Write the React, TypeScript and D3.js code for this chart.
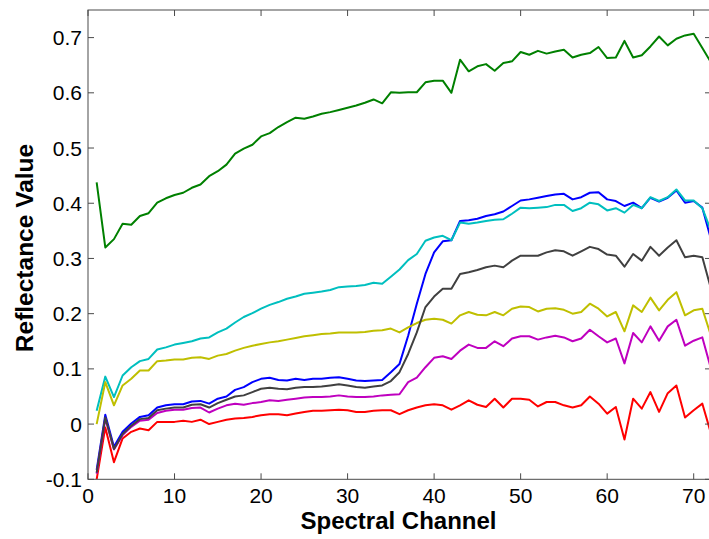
import * as d3 from "d3";
import React from "react";

// spectral channels 1..72
const channels = d3.range(1, 73);

const blueVals = [
  -0.083, 0.017, -0.041, -0.014, 0.001, 0.013, 0.016, 0.03, 0.034, 0.036,
  0.036, 0.041, 0.042, 0.037, 0.046, 0.05, 0.062, 0.067, 0.076, 0.082,
  0.084, 0.08, 0.079, 0.082, 0.08, 0.082, 0.082, 0.084, 0.085, 0.082,
  0.079, 0.078, 0.079, 0.08, 0.094, 0.109, 0.16, 0.218, 0.272, 0.311,
  0.331, 0.333, 0.368, 0.369, 0.372, 0.377, 0.38, 0.385, 0.395, 0.405,
  0.407, 0.41, 0.413, 0.416, 0.417, 0.407, 0.411, 0.419, 0.42, 0.407,
  0.404, 0.395, 0.401, 0.391, 0.41, 0.403, 0.41, 0.423, 0.401, 0.404,
  0.392, 0.335,
];

const greenVals = [
  0.438, 0.32, 0.335, 0.363, 0.361, 0.377, 0.382, 0.401, 0.409, 0.415,
  0.419, 0.428, 0.434, 0.449, 0.458, 0.47, 0.49, 0.499, 0.506, 0.521,
  0.527, 0.538, 0.547, 0.555, 0.553, 0.557, 0.562, 0.565, 0.569, 0.573,
  0.577, 0.582, 0.588, 0.581, 0.601, 0.6, 0.601, 0.601, 0.619, 0.622,
  0.622, 0.6, 0.66, 0.639, 0.648, 0.652, 0.64, 0.654, 0.657, 0.674,
  0.669, 0.676, 0.671, 0.675, 0.678, 0.664, 0.669, 0.672, 0.683, 0.663,
  0.664, 0.694, 0.664, 0.668, 0.684, 0.702, 0.686, 0.698, 0.704, 0.707,
  0.681, 0.655,
];

const redVals = [
  -0.1, -0.006, -0.069, -0.026, -0.014, -0.008, -0.011, 0.004, 0.004, 0.004,
  0.006, 0.004, 0.008, 0.0, 0.004, 0.008, 0.01, 0.011, 0.013, 0.016,
  0.018, 0.018, 0.016, 0.019, 0.022, 0.024, 0.024, 0.025, 0.026, 0.025,
  0.022, 0.022, 0.024, 0.025, 0.025, 0.018, 0.025, 0.03, 0.034, 0.036,
  0.034, 0.026, 0.034, 0.043, 0.035, 0.031, 0.046, 0.03, 0.046, 0.046,
  0.044, 0.032, 0.04, 0.04, 0.034, 0.03, 0.034, 0.05, 0.037, 0.019,
  0.031, -0.028, 0.046, 0.028, 0.058, 0.022, 0.056, 0.07, 0.012, 0.025,
  0.037, -0.017,
];

const cyanVals = [
  0.024, 0.086, 0.049, 0.088, 0.103, 0.114, 0.118, 0.135, 0.139, 0.144,
  0.147, 0.15, 0.155, 0.157, 0.166, 0.173, 0.184, 0.194, 0.201, 0.209,
  0.216, 0.221, 0.227, 0.231, 0.236, 0.238, 0.24, 0.243, 0.248, 0.249,
  0.25, 0.252, 0.256, 0.254, 0.267, 0.28, 0.297, 0.308, 0.332, 0.338,
  0.341, 0.333, 0.365, 0.363, 0.365, 0.368, 0.37, 0.371, 0.381, 0.392,
  0.391, 0.392, 0.393, 0.397, 0.397, 0.386, 0.391, 0.401, 0.398, 0.387,
  0.391, 0.383, 0.397, 0.391, 0.411, 0.404, 0.411, 0.425, 0.405, 0.405,
  0.391, 0.35,
];

const magentaVals = [
  -0.09, 0.01, -0.046, -0.02, -0.005, 0.006, 0.008, 0.02, 0.024, 0.026,
  0.026, 0.029, 0.03, 0.021, 0.028, 0.034, 0.037, 0.035, 0.038, 0.04,
  0.043, 0.042, 0.044, 0.046, 0.048, 0.049, 0.049, 0.05, 0.052, 0.05,
  0.049, 0.049, 0.05, 0.052, 0.053, 0.054, 0.076, 0.084, 0.103, 0.12,
  0.123, 0.118, 0.133, 0.144, 0.138, 0.138, 0.15, 0.141, 0.155, 0.159,
  0.159, 0.153, 0.157, 0.16, 0.157, 0.15, 0.155, 0.171, 0.159, 0.148,
  0.155, 0.11, 0.165, 0.148, 0.177, 0.151, 0.177, 0.189, 0.142, 0.151,
  0.157, 0.1,
];

const yellowVals = [
  0.0, 0.076, 0.034, 0.07, 0.082, 0.097, 0.097, 0.114, 0.115, 0.117,
  0.117, 0.12, 0.121, 0.118, 0.124, 0.127, 0.133, 0.138, 0.142, 0.145,
  0.148, 0.15, 0.153, 0.156, 0.159, 0.161, 0.163, 0.164, 0.166, 0.166,
  0.166, 0.167, 0.169, 0.17, 0.173, 0.166, 0.175, 0.183, 0.189, 0.191,
  0.189, 0.182, 0.197, 0.203, 0.198, 0.197, 0.203, 0.197, 0.209, 0.213,
  0.212, 0.204, 0.209, 0.21, 0.207, 0.2, 0.203, 0.218, 0.209, 0.195,
  0.203, 0.168, 0.215, 0.203, 0.229, 0.206, 0.225, 0.239, 0.197, 0.206,
  0.209, 0.16,
];

const grayVals = [
  -0.088, 0.012, -0.045, -0.018, -0.003, 0.009, 0.011, 0.025, 0.028, 0.03,
  0.03, 0.035, 0.036, 0.03, 0.038, 0.044, 0.05, 0.052, 0.058, 0.064,
  0.066, 0.064, 0.063, 0.066, 0.067, 0.067, 0.068, 0.07, 0.072, 0.07,
  0.067, 0.066, 0.068, 0.07, 0.078, 0.094, 0.127, 0.166, 0.212, 0.231,
  0.245, 0.245, 0.272, 0.275, 0.279, 0.284, 0.287, 0.284, 0.296, 0.305,
  0.305, 0.305, 0.311, 0.315, 0.313, 0.305, 0.313, 0.321, 0.317, 0.307,
  0.305, 0.285, 0.308, 0.296, 0.321, 0.305, 0.32, 0.333, 0.302, 0.305,
  0.302, 0.245,
];

// MATLAB default color order, drawn in this order
const series = [
  { name: "blue", color: "#0000ff", values: blueVals },
  { name: "green", color: "#008000", values: greenVals },
  { name: "red", color: "#ff0000", values: redVals },
  { name: "cyan", color: "#00bfbf", values: cyanVals },
  { name: "magenta", color: "#bf00bf", values: magentaVals },
  { name: "yellow", color: "#bfbf00", values: yellowVals },
  { name: "gray", color: "#404040", values: grayVals },
];

const xTicks = [0, 10, 20, 30, 40, 50, 60, 70];
const yTicks = [-0.1, 0, 0.1, 0.2, 0.3, 0.4, 0.5, 0.6, 0.7];
const yTickLabels = ["-0.1", "0", "0.1", "0.2", "0.3", "0.4", "0.5", "0.6", "0.7"];

const W = 709;
const H = 539;
const plot = { left: 88, right: 711, top: 10, bottom: 479.3 };
const font = "'Liberation Sans', Arial, Helvetica, sans-serif";

const App = () => {
  const x = d3.scaleLinear().domain([0, 72]).range([plot.left, plot.right]);
  const y = d3.scaleLinear().domain([-0.1, 0.75]).range([plot.bottom, plot.top]);

  const line = d3
    .line<number>()
    .x((_, i) => x(channels[i]))
    .y((d) => y(d));

  const tickLen = 6;
  const axisColor = "#4a4a4a";

  return (
    <svg
      width={W}
      height={H}
      style={{ position: "absolute", left: 0, top: 0, background: "#fff" }}
      fontFamily={font}
    >
      <rect x={0} y={0} width={W} height={H} fill="#fff" />
      <defs>
        <clipPath id="plotClip">
          <rect
            x={plot.left}
            y={plot.top}
            width={plot.right - plot.left}
            height={plot.bottom - plot.top}
          />
        </clipPath>
      </defs>

      <g clipPath="url(#plotClip)">
        {series.map((s) => (
          <path
            key={s.name}
            d={line(s.values) || ""}
            fill="none"
            stroke={s.color}
            strokeWidth={2}
            strokeLinejoin="round"
          />
        ))}
      </g>

      {/* axes box */}
      <rect
        x={plot.left}
        y={plot.top}
        width={plot.right - plot.left}
        height={plot.bottom - plot.top}
        fill="none"
        stroke={axisColor}
        strokeWidth={1}
      />

      {/* x ticks, inward on bottom and top */}
      {xTicks.map((t) => (
        <g key={"x" + t}>
          <line x1={x(t)} x2={x(t)} y1={plot.bottom} y2={plot.bottom - tickLen} stroke={axisColor} />
          <line x1={x(t)} x2={x(t)} y1={plot.top} y2={plot.top + tickLen} stroke={axisColor} />
          <text x={x(t)} y={503} textAnchor="middle" fontSize={21} fill="#000">
            {t}
          </text>
        </g>
      ))}

      {/* y ticks, inward on left and right */}
      {yTicks.map((t, i) => (
        <g key={"y" + t}>
          <line x1={plot.left} x2={plot.left + tickLen} y1={y(t)} y2={y(t)} stroke={axisColor} />
          <line x1={plot.right} x2={plot.right - tickLen} y1={y(t)} y2={y(t)} stroke={axisColor} />
          <text x={82} y={y(t)} dy="0.36em" textAnchor="end" fontSize={21} fill="#000">
            {yTickLabels[i]}
          </text>
        </g>
      ))}

      <text
        x={(plot.left + plot.right) / 2 - 1}
        y={529}
        textAnchor="middle"
        fontSize={24}
        fontWeight="bold"
        fill="#000"
      >
        Spectral Channel
      </text>
      <text
        transform={`translate(33, 248) rotate(-90)`}
        textAnchor="middle"
        fontSize={24.5}
        fontWeight="bold"
        fill="#000"
      >
        Reflectance Value
      </text>
    </svg>
  );
};

export default App;
